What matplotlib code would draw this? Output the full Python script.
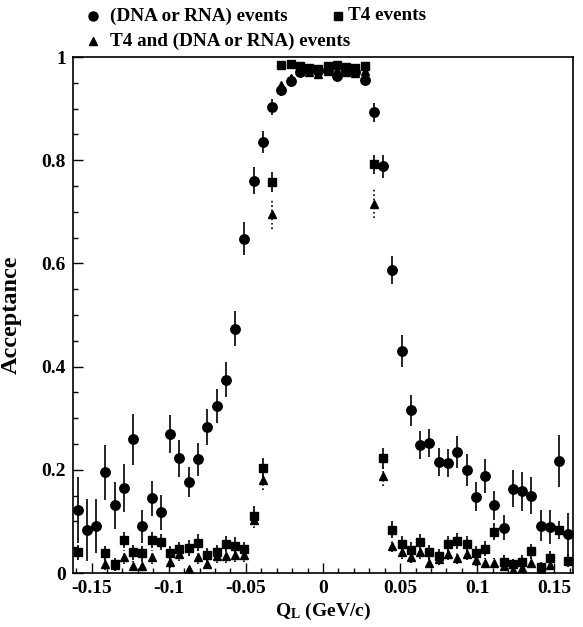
import numpy as np
import matplotlib
matplotlib.use("Agg")
import matplotlib.pyplot as plt
from matplotlib.ticker import MultipleLocator

plt.rcParams['font.family'] = ['Liberation Serif', 'DejaVu Serif']
plt.rcParams['font.weight'] = 'bold'
plt.rcParams['mathtext.fontset'] = 'custom'
plt.rcParams['mathtext.rm'] = 'Liberation Serif:bold'
plt.rcParams['mathtext.bf'] = 'Liberation Serif:bold'

nan = np.nan

# bin centres in Q_L (GeV/c)
q = [-0.159, -0.153, -0.147, -0.141, -0.135, -0.129, -0.123, -0.117, -0.111,
     -0.105, -0.099, -0.093, -0.087, -0.081, -0.075, -0.069, -0.063, -0.057,
     -0.051, -0.045, -0.039, -0.033, -0.027, -0.021, -0.015, -0.009, -0.003,
     0.003, 0.009, 0.015, 0.021, 0.027, 0.033, 0.039, 0.045, 0.051, 0.057,
     0.063, 0.069, 0.075, 0.081, 0.087, 0.093, 0.099, 0.105, 0.111, 0.117,
     0.123, 0.129, 0.135, 0.141, 0.147, 0.153, 0.159]

# (DNA or RNA) events
acc_dna = [0.123, 0.083, 0.091, 0.195, 0.131, 0.165, 0.259, 0.091, 0.145,
           0.118, 0.270, 0.222, 0.176, 0.220, 0.283, 0.323, 0.375, 0.473,
           0.648, 0.760, 0.835, 0.903, 0.937, 0.953, 0.970, 0.975, 0.972,
           0.975, 0.963, 0.972, 0.970, 0.955, 0.893, 0.788, 0.588, 0.430,
           0.315, 0.248, 0.252, 0.215, 0.213, 0.235, 0.199, 0.148, 0.188,
           0.131, 0.088, 0.163, 0.158, 0.150, 0.092, 0.089, 0.217, 0.075]
err_dna = [0.064, 0.060, 0.052, 0.054, 0.045, 0.046, 0.050, 0.032, 0.034,
           0.034, 0.037, 0.035, 0.029, 0.032, 0.034, 0.033, 0.034, 0.034,
           0.032, 0.026, 0.022, 0.016, 0.012, 0.010, 0.006, 0.006, 0.006,
           0.006, 0.006, 0.006, 0.006, 0.010, 0.018, 0.023, 0.027, 0.031,
           0.030, 0.027, 0.028, 0.027, 0.027, 0.031, 0.031, 0.028, 0.032,
           0.028, 0.025, 0.036, 0.038, 0.036, 0.030, 0.033, 0.051, 0.042]

# T4 events
acc_t4 = [0.040, nan, nan, 0.038, 0.018, 0.064, 0.040, 0.038, 0.064,
          0.060, 0.038, 0.046, 0.048, 0.059, 0.034, 0.040, 0.056, 0.053,
          0.046, 0.111, 0.203, 0.758, 0.984, 0.987, 0.982, 0.978, 0.977,
          0.982, 0.984, 0.980, 0.978, 0.982, 0.792, 0.222, 0.084, 0.056,
          0.045, 0.060, 0.040, 0.032, 0.056, 0.062, 0.056, 0.038, 0.047,
          0.080, 0.022, 0.017, 0.022, 0.042, 0.011, 0.029, 0.083, 0.024]
err_t4 = [0.015, 0.0, 0.0, 0.015, 0.012, 0.016, 0.015, 0.015, 0.016,
          0.016, 0.015, 0.015, 0.015, 0.016, 0.014, 0.015, 0.016, 0.016,
          0.015, 0.018, 0.020, 0.020, 0.004, 0.004, 0.004, 0.004, 0.004,
          0.004, 0.004, 0.004, 0.004, 0.004, 0.018, 0.020, 0.016, 0.016,
          0.015, 0.016, 0.015, 0.014, 0.016, 0.016, 0.016, 0.015, 0.015,
          0.017, 0.012, 0.011, 0.012, 0.015, 0.010, 0.013, 0.017, 0.012]

# T4 and (DNA or RNA) events
acc_both = [nan, nan, nan, 0.017, 0.015, 0.031, 0.013, 0.013, 0.031,
            nan, 0.021, 0.036, 0.008, 0.031, 0.018, 0.033, 0.033, 0.034,
            0.034, 0.103, 0.180, 0.695, 0.945, 0.960, 0.972, 0.970, 0.968,
            0.972, 0.975, 0.970, 0.969, 0.972, 0.716, 0.188, 0.053, 0.040,
            0.031, 0.040, 0.020, 0.027, 0.037, 0.029, 0.037, 0.025, 0.019,
            0.020, 0.013, 0.006, 0.009, 0.020, 0.006, 0.016, nan, nan]
err_both = [0.0, 0.0, 0.0, 0.011, 0.011, 0.013, 0.010, 0.010, 0.013,
            0.0, 0.011, 0.013, 0.008, 0.013, 0.011, 0.013, 0.013, 0.013,
            0.013, 0.016, 0.020, 0.028, 0.005, 0.005, 0.005, 0.005, 0.005,
            0.005, 0.005, 0.005, 0.005, 0.005, 0.028, 0.020, 0.013, 0.012,
            0.011, 0.012, 0.010, 0.011, 0.012, 0.011, 0.012, 0.011, 0.010,
            0.010, 0.009, 0.007, 0.008, 0.010, 0.007, 0.009, 0.0, 0.0]

fig = plt.figure(figsize=(5.83, 6.27), dpi=100)
ax = fig.add_axes([73 / 583, 54 / 627, 500 / 583, 516 / 627])

ax.errorbar(q, acc_dna, yerr=err_dna, fmt='o', color='black', ms=6.8,
            elinewidth=1.2, capsize=0, zorder=3)
ax.errorbar(q, acc_t4, yerr=err_t4, fmt='s', color='black', ms=5.7,
            elinewidth=1.2, capsize=0, zorder=4)
eb = ax.errorbar(q, acc_both, yerr=err_both, fmt='^', color='black', ms=6,
                 elinewidth=1.2, capsize=0, zorder=5)
eb[2][0].set_linestyle(':')

ax.set_xlim(-0.162, 0.162)
ax.set_ylim(0, 1.0)
ax.xaxis.set_minor_locator(MultipleLocator(0.01))
ax.yaxis.set_minor_locator(MultipleLocator(0.05))
ax.set_xticks([-0.15, -0.1, -0.05, 0, 0.05, 0.1, 0.15])
ax.set_xticklabels(['-0.15', '-0.1', '-0.05', '0', '0.05', '0.1', '0.15'])
ax.set_yticks([0, 0.2, 0.4, 0.6, 0.8, 1.0])
ax.set_yticklabels(['0', '0.2', '0.4', '0.6', '0.8', '1'])
ax.tick_params(which='both', direction='in', top=False, right=False,
               labelsize=14)
ax.tick_params(which='major', length=7, width=1.0, pad=5)
ax.tick_params(which='minor', length=3.5, width=1.0)
for lab in ax.get_xticklabels() + ax.get_yticklabels():
    lab.set_fontweight('bold')
for s in ax.spines.values():
    s.set_linewidth(1.2)

ax.set_xlabel(r'$\mathbf{Q_L}$ (GeV/c)', fontsize=14, fontweight='bold',
              labelpad=3)
ax.set_ylabel('Acceptance', fontsize=17.5, fontweight='bold')
ax.yaxis.set_label_coords(-0.102, 0.5)

# legend drawn above the frame
fig.lines.append(plt.Line2D([93 / 583], [1 - 16 / 627], marker='o', ms=6.5,
                            color='black', transform=fig.transFigure))
fig.lines.append(plt.Line2D([338 / 583], [1 - 16 / 627], marker='s', ms=5.5,
                            color='black', transform=fig.transFigure))
fig.lines.append(plt.Line2D([93 / 583], [1 - 41 / 627], marker='^', ms=5.5,
                            color='black', transform=fig.transFigure))
fig.text(110 / 583, 1 - 16 / 627, '(DNA or RNA) events', fontsize=13.8,
         fontweight='bold', va='center')
fig.text(348 / 583, 1 - 16 / 627, 'T4 events', fontsize=13.8,
         fontweight='bold', va='center')
fig.text(110 / 583, 1 - 41 / 627, 'T4 and (DNA or RNA) events', fontsize=13.8,
         fontweight='bold', va='center')

fig.savefig('out.png', dpi=100)
